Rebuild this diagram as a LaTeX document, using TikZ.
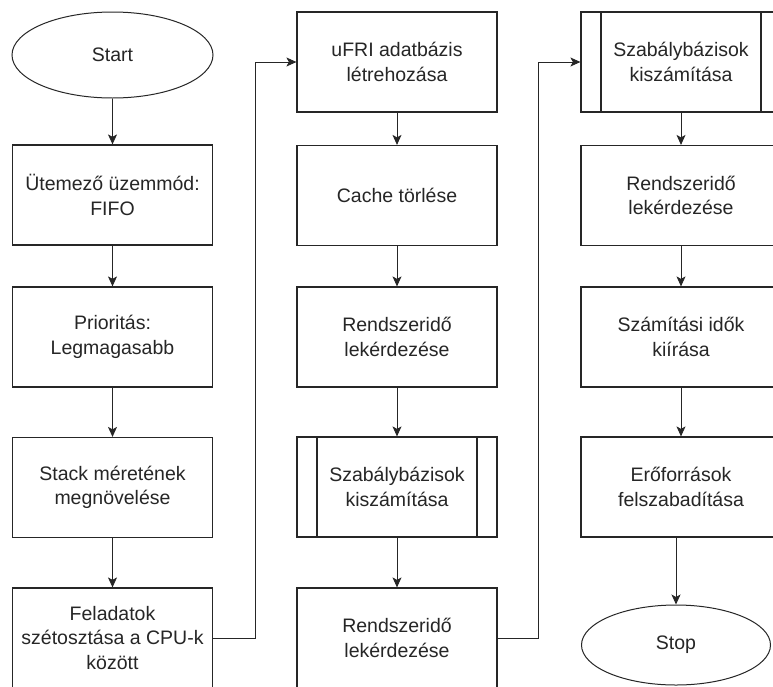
\documentclass[tikz,border=0pt]{standalone}
\usepackage{fontspec}
\setmainfont{Liberation Sans}
\usetikzlibrary{arrows.meta,shapes.geometric}
\definecolor{ink}{HTML}{262626}
\tikzset{
  box/.style={draw=ink, line width=1.2pt, minimum width=200pt, minimum height=100pt,
    inner sep=0pt, align=center, text=ink, font=\fontsize{19.5}{24.5}\selectfont},
  subproc/.style={box, path picture={
    \draw[ink, line width=1.2pt] ([xshift=20pt]path picture bounding box.north west) -- ([xshift=20pt]path picture bounding box.south west);
    \draw[ink, line width=1.2pt] ([xshift=-20pt]path picture bounding box.north east) -- ([xshift=-20pt]path picture bounding box.south east);}},
  term/.style={draw=ink, line width=1pt, ellipse, minimum width=201pt, minimum height=86pt,
    inner sep=0pt, text=ink, font=\fontsize{19.5}{24.5}\selectfont},
  flow/.style={draw=ink, line width=0.9pt, -{Stealth[length=10pt,width=9pt,inset=2.5pt]}}
}
\begin{document}
\begin{tikzpicture}[x=1pt,y=-1pt]
\useasboundingbox (0,0) rectangle (773,686);
\clip (0,0) rectangle (773,686);
\fill[white] (0,0) rectangle (773,686);
% first column
\node[term] (start) at (112.5,55) {Start};
\node[box] (sched) at (112.5,195) {Ütemező üzemmód:\\FIFO};
\node[box] (prio) at (112.5,337) {Prioritás:\\Legmagasabb};
\node[box] (stack) at (112.5,487.5) {Stack méretének\\megnövelése};
\node[box] (tasks) at (112.5,638) {Feladatok\\szétosztása a CPU-k\\között};
% second column
\node[box] (ufri) at (397,62) {uFRI adatbázis\\létrehozása};
\node[box] (cache) at (397,195.5) {Cache törlése};
\node[box] (time1) at (397,337) {Rendszeridő\\lekérdezése};
\node[subproc] (rules1) at (397,487) {Szabálybázisok\\kiszámítása};
\node[box] (time2) at (397,638) {Rendszeridő\\lekérdezése};
% third column
\node[subproc] (rules2) at (681,62) {Szabálybázisok\\kiszámítása};
\node[box] (time3) at (681,195.5) {Rendszeridő\\lekérdezése};
\node[box] (print) at (681,337) {Számítási idők\\kiírása};
\node[box] (free) at (681,487) {Erőforrások\\felszabadítása};
\node[term, minimum width=189pt, minimum height=80pt] (stop) at (676,645) {Stop};
% connectors
\draw[flow] (start) -- (sched);
\draw[flow] (sched) -- (prio);
\draw[flow] (prio) -- (stack);
\draw[flow] (stack) -- (tasks);
\draw[flow] (tasks.east) -- (255,638) |- (ufri.west);
\draw[flow] (ufri) -- (cache);
\draw[flow] (cache) -- (time1);
\draw[flow] (time1) -- (rules1);
\draw[flow] (rules1) -- (time2);
\draw[flow] (time2.east) -- (538,638) |- (rules2.west);
\draw[flow] (rules2) -- (time3);
\draw[flow] (time3) -- (print);
\draw[flow] (print) -- (free);
\draw[flow] (free.south -| stop.north) -- (stop.north);
\end{tikzpicture}
\end{document}
